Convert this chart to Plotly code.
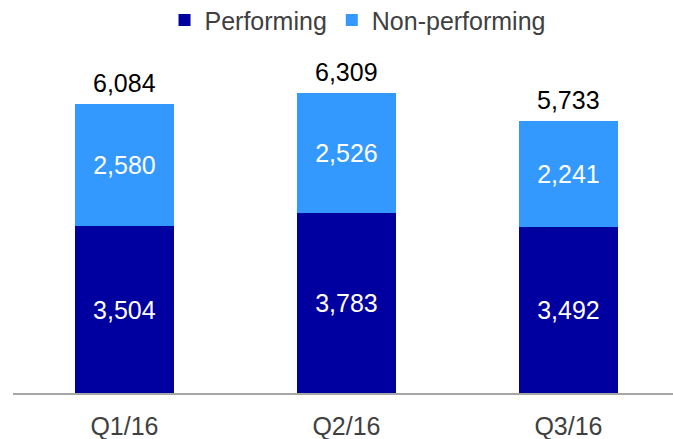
import plotly.graph_objects as go

quarters = ["Q1/16", "Q2/16", "Q3/16"]
performing = [3504, 3783, 3492]
non_performing = [2580, 2526, 2241]
totals = [6084, 6309, 5733]

FONT = "Liberation Sans, Arial"

fig = go.Figure()
fig.add_trace(go.Bar(
    x=quarters, y=performing, name="Performing",
    marker_color="#0000A0", marker_line_width=0,
    text=[f"{v:,}" for v in performing], textposition="inside",
    insidetextanchor="middle", textangle=0,
    textfont=dict(color="white", size=25, family=FONT),
))
fig.add_trace(go.Bar(
    x=quarters, y=non_performing, name="Non-performing",
    marker_color="#3399FF", marker_line_width=0,
    text=[f"{v:,}" for v in non_performing], textposition="inside",
    insidetextanchor="middle", textangle=0,
    textfont=dict(color="white", size=25, family=FONT),
))

# totals above the stacks
for q, t in zip(quarters, totals):
    fig.add_annotation(x=q, y=t, text=f"{t:,}", showarrow=False,
                       yanchor="bottom", yshift=5,
                       font=dict(color="black", size=25, family=FONT))

fig.update_layout(
    barmode="stack",
    bargap=0.554,
    width=673, height=439,
    margin=dict(l=13, r=0, t=40, b=46),
    plot_bgcolor="white", paper_bgcolor="white",
    font=dict(family=FONT, size=25, color="#404040"),
    legend=dict(orientation="h", x=0.522, xanchor="center",
                yref="container", y=0.954, yanchor="middle",
                font=dict(size=25, color="#404040"), itemwidth=30,
                traceorder="normal", bgcolor="rgba(0,0,0,0)"),
    showlegend=True,
)
fig.update_xaxes(range=[-0.502, 2.471], showline=True, linecolor="#A6A6A6", linewidth=2,
                 ticks="", ticklabelstandoff=10, tickfont=dict(size=25, color="#404040"))
fig.update_yaxes(range=[0, 7360], visible=False, showgrid=False)

# drop the default 8px body margin so the figure fills the window
fig.write_html("out.html", config={"displayModeBar": False},
               post_script="document.body.style.margin='0';")
